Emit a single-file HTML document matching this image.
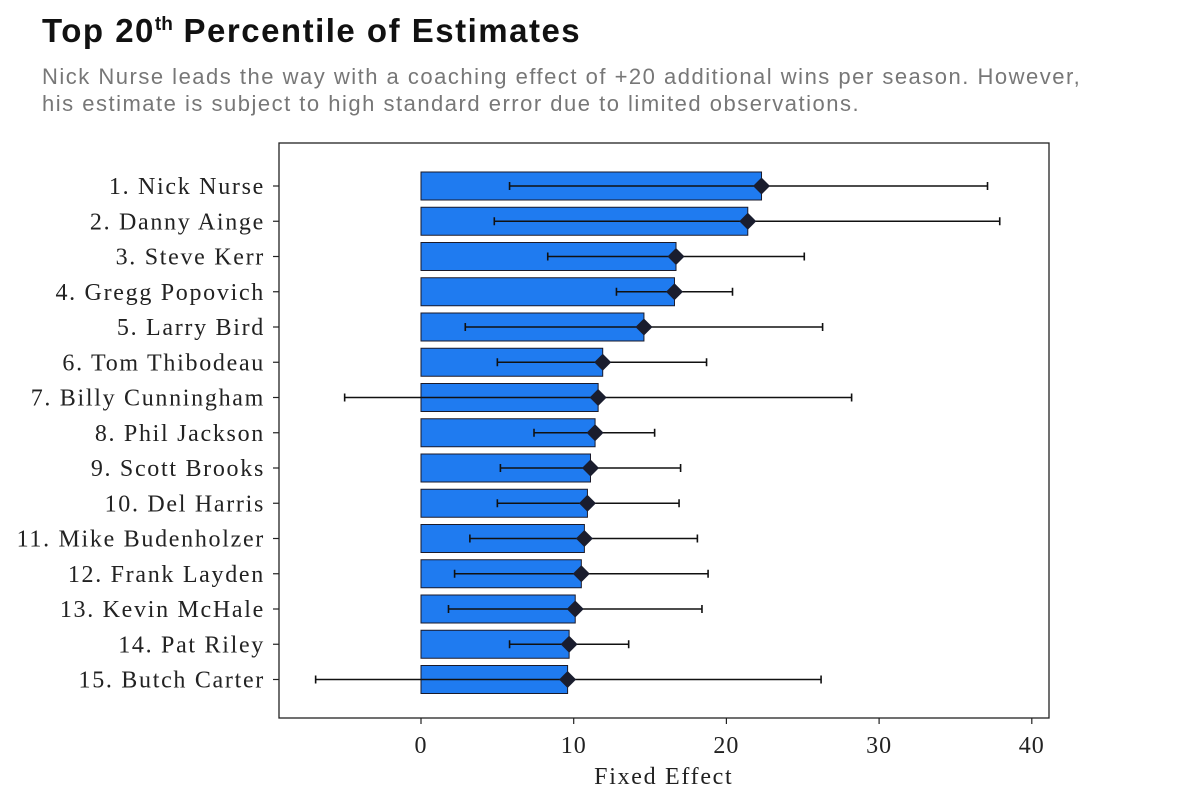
<!DOCTYPE html>
<html><head><meta charset="utf-8">
<style>
body{margin:0;background:#fff;width:1200px;height:806px;overflow:hidden;}
.title{position:absolute;left:42px;top:12px;font-family:"Liberation Sans",sans-serif;font-weight:bold;font-size:33px;letter-spacing:1.5px;color:#111;}
.title sup{font-size:19px;letter-spacing:0;}
.sub{position:absolute;left:42px;top:63px;width:1060px;font-family:"Liberation Sans",sans-serif;font-size:22px;letter-spacing:1.5px;line-height:27px;color:#777;}
svg{position:absolute;left:0;top:0;}
</style></head><body>
<div class="title">Top 20<sup>th</sup> Percentile of Estimates</div>
<div class="sub">Nick Nurse leads the way with a coaching effect of +20 additional wins per season. However, his estimate is subject to high standard error due to limited observations.</div>
<svg id="chart" width="1200" height="806"></svg>
<script>
const coaches=["1. Nick Nurse","2. Danny Ainge","3. Steve Kerr","4. Gregg Popovich","5. Larry Bird","6. Tom Thibodeau","7. Billy Cunningham","8. Phil Jackson","9. Scott Brooks","10. Del Harris","11. Mike Budenholzer","12. Frank Layden","13. Kevin McHale","14. Pat Riley","15. Butch Carter"];
const effects=[22.3,21.4,16.7,16.6,14.6,11.9,11.6,11.4,11.1,10.9,10.7,10.5,10.1,9.7,9.6];
const lowErr=[5.8,4.8,8.3,12.8,2.9,5.0,-5.0,7.4,5.2,5.0,3.2,2.2,1.8,5.8,-6.9];
const highErr=[37.1,37.9,25.1,20.4,26.3,18.7,28.2,15.3,17.0,16.9,18.1,18.8,18.4,13.6,26.2];
const xTicks=[0,10,20,30,40];
const xTitle="Fixed Effect";

const ns="http://www.w3.org/2000/svg";
const svg=document.getElementById('chart');
const L=279,R=1049,T=143,B=718;
const x=v=>421+v*15.27;
const y=i=>186+i*35.25;
function mk(t,a,p){const e=document.createElementNS(ns,t);for(const k in a)e.setAttribute(k,a[k]);(p||svg).appendChild(e);return e;}
const serif='"Liberation Serif",serif';
const frame=mk('rect',{x:L,y:T,width:R-L,height:B-T,fill:'none',stroke:'#222','stroke-width':1.3});


xTicks.forEach(t=>{
  const l=mk('line',{x1:x(t),x2:x(t),y1:B,y2:B+6,stroke:'#222','stroke-width':1.2});
  
  
  const tx=mk('text',{x:x(t),y:B+35,'text-anchor':'middle','font-family':serif,'font-size':24,'letter-spacing':1,fill:'#222'});
  tx.textContent=t;
  
  
});
const xt=mk('text',{x:x(15.9),y:784,'text-anchor':'middle','font-family':serif,'font-size':24,'letter-spacing':1.7,fill:'#222'});
xt.textContent=xTitle;


coaches.forEach((c,i)=>{
  const cy=y(i);
  const tk=mk('line',{x1:L-6,x2:L,y1:cy,y2:cy,stroke:'#222','stroke-width':1.2});
  
  
  const lb=mk('text',{x:L-14,y:cy+8,'text-anchor':'end','font-family':serif,'font-size':24,'letter-spacing':1.7,fill:'#222'});
  lb.textContent=c;
  
  
  const v=effects[i];
  const b=mk('rect',{x:Math.min(x(0),x(v)),y:cy-14,width:Math.abs(x(v)-x(0)),height:28,fill:'#1f7bf0',stroke:'#1a1a2a','stroke-width':1});
  
  
  const g=mk('g',{stroke:'#111','stroke-width':1.6});
  
  
  mk('line',{x1:x(lowErr[i]),x2:x(highErr[i]),y1:cy,y2:cy},g);
  mk('line',{x1:x(lowErr[i]),x2:x(lowErr[i]),y1:cy-4,y2:cy+4},g);
  mk('line',{x1:x(highErr[i]),x2:x(highErr[i]),y1:cy-4,y2:cy+4},g);
  const d=mk('rect',{x:x(v)-6,y:cy-6,width:12,height:12,fill:'#1a1d2e',transform:`rotate(45 ${x(v)} ${cy})`});
  
  
});
</script>
</body></html>
